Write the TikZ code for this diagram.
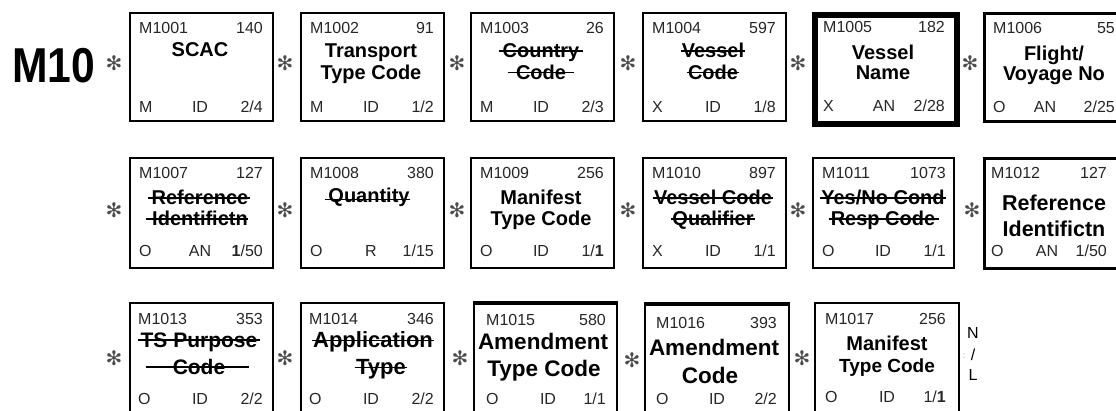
\documentclass[tikz,border=0pt]{standalone}
\usepackage{fontspec}
\setmainfont{Liberation Sans}
\newfontfamily\symfont{DejaVu Sans}
\tikzset{
  segbox/.style={draw=black, line width=2pt, inner sep=0pt, minimum width=143pt, minimum height=108pt, anchor=north west},
  small/.style={inner sep=0pt, font=\fontsize{16}{16}\selectfont, text=black!85},
  ttl/.style={inner sep=0pt, anchor=base, font=\fontsize{20}{20}\selectfont\bfseries},
  bigttl/.style={inner sep=0pt, anchor=base, font=\fontsize{22.5}{22.5}\selectfont\bfseries},
  strk/.style={line width=1.5pt, black},
  sepmark/.style={inner sep=0pt, font=\symfont\fontsize{20}{20}\selectfont, text=black!70},
  endmark/.style={inner sep=0pt, font=\fontsize{16}{16}\selectfont},
}
\def\topoff{21}\def\botoff{100}\def\lin{10}\def\rin{134}\def\bcx{71}
\newcommand\segfield[9]{%
  \node[segbox,#9] (#1) at (#2,#3) {};
  \node[small,anchor=base west] (#1-id) at (#2+\lin,#3+\topoff) {#4};
  \node[small,anchor=base east] (#1-no) at (#2+\rin,#3+\topoff) {#5};
  \node[small,anchor=base west] (#1-req) at (#2+\lin,#3+\botoff) {#6};
  \node[small,anchor=base] (#1-typ) at (#2+\bcx,#3+\botoff) {#7};
  \node[small,anchor=base east] (#1-len) at (#2+\rin,#3+\botoff) {#8};
}
\newcommand\strike[4]{% node, left ext, right ext, raise
  \draw[strk] ([xshift=-#2pt,yshift=#4pt]#1.base west) -- ([xshift=#3pt,yshift=#4pt]#1.base east);
}
\begin{document}
\begin{tikzpicture}[x=1pt,y=-1pt]
\useasboundingbox (0,0) rectangle (1116,410);
\clip (0,0) rectangle (1116,410);

\node[inner sep=0pt, anchor=base, font=\fontsize{49}{49}\selectfont\bfseries] (seg) at (53.5,82) {\scalebox{0.87}[1]{M10}};

% ---------- row 1 ----------
\def\topoff{21}\def\botoff{100}
\segfield{b1}{129}{12}{M1001}{140}{M}{ID}{2/4}{}
\segfield{b2}{300}{12}{M1002}{91}{M}{ID}{1/2}{}
\segfield{b3}{470}{12}{M1003}{26}{M}{ID}{2/3}{}
\segfield{b4}{642}{12}{M1004}{597}{X}{ID}{1/8}{}
\def\lin{11}\def\rin{133}\def\bcx{72}
\segfield{b5}{812}{11.5}{M1005}{182}{X}{AN}{2/28}{line width=6pt, minimum width=142pt, minimum height=109pt}
\def\lin{10}\def\rin{132}\def\bcx{62}
\segfield{b6}{983}{12}{M1006}{55}{O}{AN}{2/25}{line width=3pt}
\def\lin{10}\def\rin{134}\def\bcx{71}

\node[ttl] (b1-t1) at (200,56.5) {SCAC};
\node[ttl] (b2-t1) at (371,57) {Transport};
\node[ttl] (b2-t2) at (371,79) {Type Code};
\node[ttl] (b3-t1) at (541,57) {Country};
\node[ttl] (b3-t2) at (541,79) {Code};
\strike{b3-t1}{3}{3}{6}
\strike{b3-t2}{8}{8}{6.5}
\node[ttl] (b4-t1) at (713,57) {Vessel};
\node[ttl] (b4-t2) at (713,79) {Code};
\strike{b4-t1}{1}{1}{6}
\strike{b4-t2}{1}{1}{6.5}
\node[ttl] (b5-t1) at (883,59) {Vessel};
\node[ttl] (b5-t2) at (883,79) {Name};
\node[ttl] (b6-t1) at (1054,60) {Flight/};
\node[ttl] (b6-t2) at (1054,80) {Voyage No};

\node[sepmark] (s10) at (114,63) {✻};
\node[sepmark] (s11) at (285,63) {✻};
\node[sepmark] (s12) at (457,63) {✻};
\node[sepmark] (s13) at (628,63) {✻};
\node[sepmark] (s14) at (798,63) {✻};
\node[sepmark] (s15) at (970,63) {✻};

% ---------- row 2 ----------
\def\topoff{21}\def\botoff{99}
\segfield{c1}{129}{157}{M1007}{127}{O}{AN}{\textbf{1}/50}{minimum height=110pt}
\segfield{c2}{300}{157}{M1008}{380}{O}{R}{1/15}{minimum height=110pt}
\segfield{c3}{470}{157}{M1009}{256}{O}{ID}{1/\textbf{1}}{minimum height=110pt}
\segfield{c4}{642}{157}{M1010}{897}{X}{ID}{1/1}{minimum height=110pt}
\segfield{c5}{812}{157}{M1011}{1073}{O}{ID}{1/1}{minimum height=110pt, minimum width=141pt}
\def\lin{8}\def\rin{124}\def\bcx{64}
\segfield{c6}{983}{157}{M1012}{127}{O}{AN}{1/50}{minimum height=110pt, line width=3pt}
\def\lin{10}\def\rin{134}\def\bcx{71}

\node[ttl] (c1-t1) at (200,204) {Reference};
\node[ttl] (c1-t2) at (200,225) {Identifictn};
\strike{c1-t1}{3}{1}{6}
\strike{c1-t2}{6}{0}{6}
\node[ttl] (c2-t1) at (369,202) {Quantity};
\strike{c2-t1}{3}{0}{2.5}
\node[ttl] (c3-t1) at (541,204) {Manifest};
\node[ttl] (c3-t2) at (541,225) {Type Code};
\node[ttl] (c4-t1) at (713,204) {Vessel Code};
\node[ttl] (c4-t2) at (713,225) {Qualifier};
\strike{c4-t1}{1}{1}{6}
\strike{c4-t2}{1}{1}{6}
\node[ttl] (c5-t1) at (883,204) {Yes/No Cond};
\node[ttl] (c5-t2) at (883,225) {Resp Code};
\strike{c5-t1}{1}{1}{6}
\strike{c5-t2}{2}{4}{6}
\node[bigttl, font=\fontsize{21.5}{21.5}\selectfont\bfseries] (c6-t1) at (1054,210.5) {Reference};
\node[bigttl, font=\fontsize{21.5}{21.5}\selectfont\bfseries] (c6-t2) at (1054,236) {Identifictn};

\node[sepmark] (s20) at (114,210) {✻};
\node[sepmark] (s21) at (285,210) {✻};
\node[sepmark] (s22) at (457,210) {✻};
\node[sepmark] (s23) at (628,210) {✻};
\node[sepmark] (s24) at (798,210) {✻};
\node[sepmark] (s25) at (972,210) {✻};

% ---------- row 3 ----------
\def\topoff{22}\def\botoff{102}\def\lin{9}
\segfield{d1}{129}{302}{M1013}{353}{O}{ID}{2/2}{minimum height=120pt}
\segfield{d2}{300}{302}{M1014}{346}{O}{ID}{2/2}{minimum height=120pt}
\def\topoff{22}\def\botoff{101}\def\lin{13}\def\rin{133}\def\bcx{75}
\segfield{d3}{473}{303}{M1015}{580\hspace{9pt}}{O}{ID}{1/1}{minimum height=120pt, minimum width=143pt}
\def\topoff{24}\def\botoff{100}\def\lin{12}\def\rin{133}\def\bcx{73}
\segfield{d4}{644}{304}{M1016}{393\hspace{10pt}}{O}{ID}{2/2}{minimum height=120pt, minimum width=144pt}
\def\topoff{22}\def\botoff{100}\def\lin{11}\def\rin{132}\def\bcx{73}
\segfield{d5}{814}{302}{M1017}{256}{O}{ID}{1/\textbf{1}}{minimum height=120pt, minimum width=144pt}
\draw[line width=3.5pt] (d3.north west) -- (d3.north east);
\draw[line width=3.5pt] (d4.north west) -- (d4.north east);

\node[ttl, font=\fontsize{21}{21}\selectfont\bfseries] (d1-t1) at (199,347) {TS Purpose};
\node[ttl, font=\fontsize{21}{21}\selectfont\bfseries] (d1-t2) at (199,374) {Code};
\strike{d1-t1}{2}{2}{7}
\strike{d1-t2}{27}{24}{7}
\node[bigttl, font=\fontsize{22}{22}\selectfont\bfseries] (d2-t1) at (373,347) {Application};
\node[bigttl, font=\fontsize{22}{22}\selectfont\bfseries] (d2-t2) at (381,374) {Type};
\strike{d2-t1}{1}{1}{6.5}
\strike{d2-t2}{1}{1}{6.5}
\node[bigttl] (d3-t1) at (543,349) {Amendment};
\node[bigttl] (d3-t2) at (544,376) {Type Code};
\node[bigttl] (d4-t1) at (714,355) {Amendment};
\node[bigttl] (d4-t2) at (710,383) {Code};
\node[ttl] (d5-t1) at (887,350) {Manifest};
\node[ttl, font=\fontsize{19}{19}\selectfont\bfseries] (d5-t2) at (887,372) {Type Code};

\node[sepmark] (s30) at (114,358) {✻};
\node[sepmark] (s31) at (285,358) {✻};
\node[sepmark] (s32) at (460,358) {✻};
\node[sepmark] (s33) at (632,360) {✻};
\node[sepmark] (s34) at (802,358) {✻};

\node[endmark] (endN) at (973,333) {N};
\node[endmark] (endS) at (973,355) {/};
\node[endmark] (endL) at (973,375) {L};
\node[inner sep=0pt, font=\fontsize{9}{9}\selectfont, text=black!40] (endC) at (964,356) {:};
\end{tikzpicture}
\end{document}
